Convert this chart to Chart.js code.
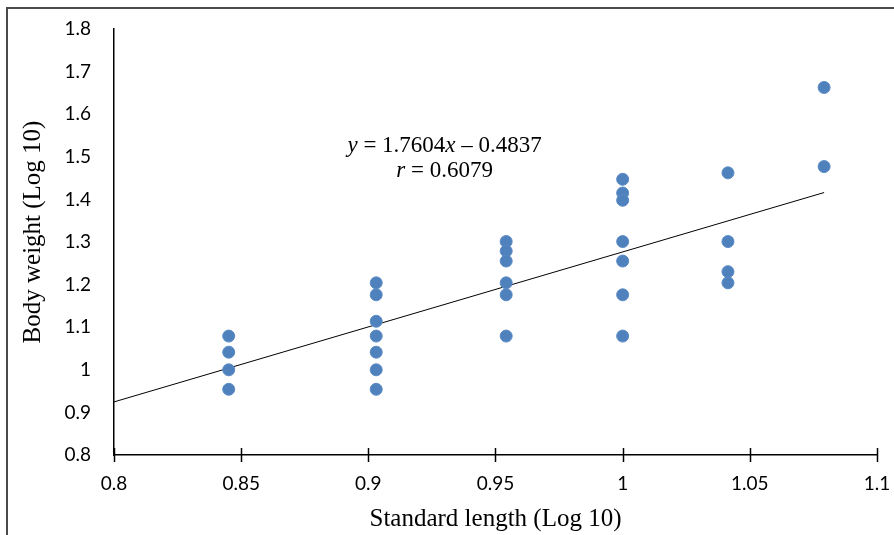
<!DOCTYPE html>
<html lang="en">
<head>
    <meta charset="UTF-8">
    <title>Body weight vs standard length</title>
    <script src="https://cdn.jsdelivr.net/npm/chart.js"></script>
    <style>
        html, body { margin: 0; padding: 0; background: #fff; }
        #wrap { position: relative; width: 894px; height: 535px; }
        #frame {
            position: absolute; left: 6px; top: 7px; right: -10px; bottom: -10px;
            border-top: 2px solid #4a4a4a; border-left: 2px solid #4a4a4a;
            pointer-events: none;
        }
    </style>
</head>
<body>
    <div id="wrap">
        <canvas id="scatter" width="894" height="535"></canvas>
        <div id="frame"></div>
    </div>

    <script>
        // log10 of standard length / body weight
        const lengthX = [
            0.8451, 0.8451, 0.8451, 0.8451,
            0.9031, 0.9031, 0.9031, 0.9031, 0.9031, 0.9031, 0.9031,
            0.9542, 0.9542, 0.9542, 0.9542, 0.9542, 0.9542,
            1.0, 1.0, 1.0, 1.0, 1.0, 1.0, 1.0,
            1.0414, 1.0414, 1.0414, 1.0414,
            1.0792, 1.0792
        ];
        const weightY = [
            1.0792, 1.0414, 1.0, 0.9542,
            1.2041, 1.1761, 1.1139, 1.0792, 1.0414, 1.0, 0.9542,
            1.301, 1.2788, 1.2553, 1.2041, 1.1761, 1.0792,
            1.4472, 1.415, 1.3979, 1.301, 1.2553, 1.1761, 1.0792,
            1.4624, 1.301, 1.2304, 1.2041,
            1.6628, 1.4771
        ];
        const xTicks = [0.8, 0.85, 0.9, 0.95, 1, 1.05, 1.1];
        const yTicks = [0.8, 0.9, 1, 1.1, 1.2, 1.3, 1.4, 1.5, 1.6, 1.7, 1.8];
        const slope = 1.7604;
        const intercept = -0.4837;
        const fitRange = [0.8, 1.0792];
        const yTitle = 'Body weight (Log 10)';

        const points = lengthX.map((x, i) => ({ x: x, y: weightY[i] }));
        const fitLine = fitRange.map(x => ({ x: x, y: slope * x + intercept }));

        const serif = '"Liberation Serif", "Times New Roman", serif';

        // crossing tick marks on the x axis, the y title and the equation label
        const extrasPlugin = {
            id: 'extras',
            afterDatasetsDraw(chart) {
                const ctx = chart.ctx;
                const xs = chart.scales.x, ys = chart.scales.y;
                const area = chart.chartArea;
                ctx.save();

                ctx.strokeStyle = '#000';
                ctx.lineWidth = 1.5;
                xTicks.forEach(v => {
                    const px = Math.round(xs.getPixelForValue(v)) + 0.5;
                    ctx.beginPath();
                    ctx.moveTo(px, area.bottom - 7);
                    ctx.lineTo(px, area.bottom + 7);
                    ctx.stroke();
                });

                ctx.fillStyle = '#000';
                ctx.font = '25px ' + serif;
                ctx.textAlign = 'center';
                ctx.textBaseline = 'middle';
                ctx.translate(33, 232);
                ctx.rotate(-Math.PI / 2);
                ctx.fillText(yTitle, 0, 0);
                ctx.setTransform(1, 0, 0, 1, 0, 0);

                const cx = xs.getPixelForValue(0.930);
                const rows = [
                    [['y', true], [' = 1.7604', false], ['x', true], [' \u2013 0.4837', false]],
                    [['r', true], [' = 0.6079', false]]
                ];
                const baselines = [ys.getPixelForValue(1.511), ys.getPixelForValue(1.4526)];
                ctx.textBaseline = 'alphabetic';
                ctx.textAlign = 'left';
                rows.forEach((parts, r) => {
                    let total = 0;
                    parts.forEach(p => {
                        ctx.font = (p[1] ? 'italic ' : '') + '23px ' + serif;
                        total += ctx.measureText(p[0]).width;
                    });
                    let x = cx - total / 2;
                    parts.forEach(p => {
                        ctx.font = (p[1] ? 'italic ' : '') + '23px ' + serif;
                        ctx.fillText(p[0], x, baselines[r]);
                        x += ctx.measureText(p[0]).width;
                    });
                });
                ctx.restore();
            }
        };

        const tickFont = { family: 'Lato', size: 19 };

        new Chart(document.getElementById('scatter').getContext('2d'), {
            type: 'scatter',
            data: {
                datasets: [
                    {
                        label: 'Fish',
                        data: points,
                        backgroundColor: '#4f81bd',
                        borderColor: '#5a8ac4',
                        borderWidth: 1,
                        pointRadius: 6,
                        order: 1
                    },
                    {
                        label: 'Fit',
                        type: 'line',
                        data: fitLine,
                        borderColor: '#000',
                        borderWidth: 1,
                        pointRadius: 0,
                        fill: false,
                        order: 2
                    }
                ]
            },
            options: {
                responsive: false,
                animation: false,
                layout: { padding: { top: 29, right: 17, left: 0, bottom: 0 } },
                plugins: {
                    legend: { display: false },
                    tooltip: { enabled: false }
                },
                scales: {
                    x: {
                        type: 'linear',
                        min: 0.8,
                        max: 1.1,
                        afterBuildTicks(scale) {
                            scale.ticks = xTicks.map(v => ({ value: v }));
                        },
                        afterFit(scale) {
                            scale.height = 80;
                            scale.paddingLeft = 0;
                            scale.paddingRight = 0;
                        },
                        grid: { display: false },
                        border: { color: '#000', width: 1.5 },
                        ticks: {
                            color: '#000',
                            font: tickFont,
                            padding: 9,
                            maxRotation: 0,
                            callback: v => String(Math.round(v * 100) / 100)
                        },
                        title: {
                            display: true,
                            text: 'Standard length (Log 10)',
                            color: '#000',
                            font: { family: 'Liberation Serif', size: 25 },
                            padding: { bottom: 1 }
                        }
                    },
                    y: {
                        min: 0.8,
                        max: 1.8,
                        afterBuildTicks(scale) {
                            scale.ticks = yTicks.map(v => ({ value: v }));
                        },
                        afterFit(scale) { scale.width = 114; },
                        grid: { display: false },
                        border: { color: '#000', width: 1.5 },
                        ticks: {
                            color: '#000',
                            font: tickFont,
                            padding: 15,
                            callback: v => String(Math.round(v * 10) / 10)
                        }
                    }
                }
            },
            plugins: [extrasPlugin]
        });
    </script>
</body>
</html>
